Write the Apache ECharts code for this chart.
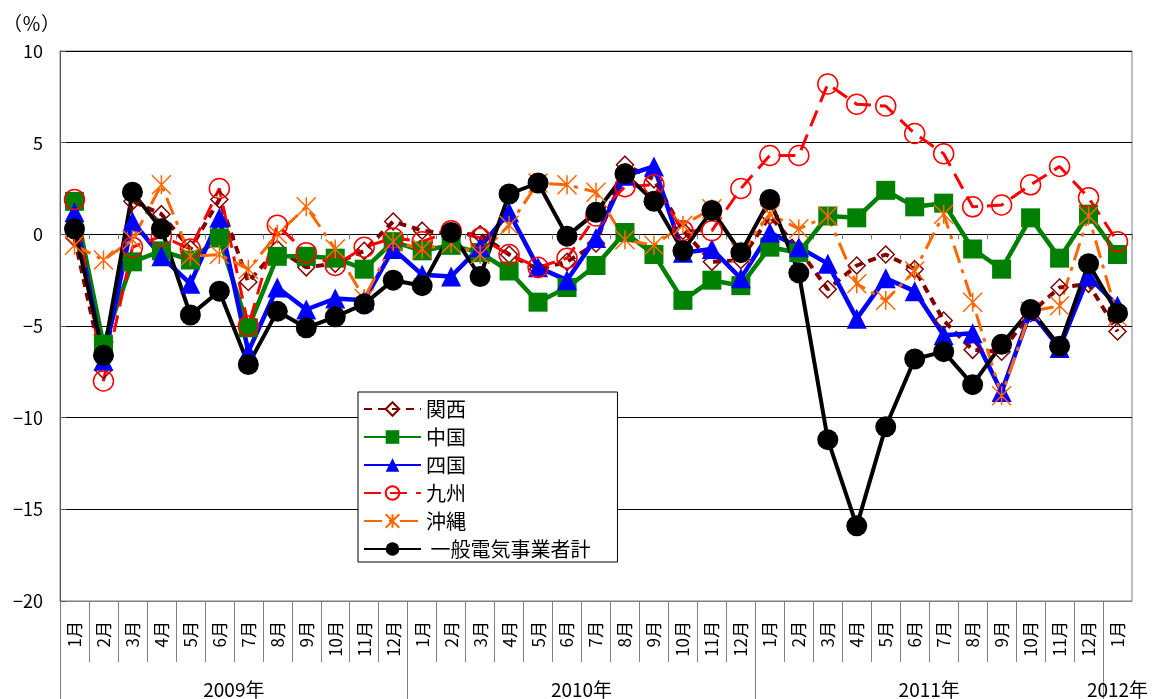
<!DOCTYPE html>
<html>
<head>
<meta charset="utf-8">
<script src="https://cdn.jsdelivr.net/npm/echarts@6/dist/echarts.min.js"></script>
<style>
  html, body { margin: 0; padding: 0; background: #fff; }
  #chart { width: 1152px; height: 699px; }
</style>
</head>
<body>
<div id="chart"></div>
<script>
// 月別の前年同月比（%）、2009年1月〜2012年1月
const months = [
  '1月','2月','3月','4月','5月','6月','7月','8月','9月','10月','11月','12月',
  '1月','2月','3月','4月','5月','6月','7月','8月','9月','10月','11月','12月',
  '1月','2月','3月','4月','5月','6月','7月','8月','9月','10月','11月','12月',
  '1月'
];
const years = ['2009年', '2010年', '2011年', '2012年'];
const yTicks = { min: -20, max: 10, step: 5 };

const kansai = [-0.2, -7.4, 1.8, 1.1, -0.8, 1.9, -2.6, -0.8, -1.8, -1.6, -0.9, 0.7,
                0.2, 0.0, 0.0, -1.1, -1.9, -1.5, -0.5, 3.8, 3.0, 0.2, -1.5, -1.4,
                1.0, -0.8, -3.0, -1.7, -1.1, -1.9, -4.7, -6.3, -6.4, -4.3, -2.9, -2.7,
                -5.3];
const chugoku = [1.8, -6.0, -1.5, -0.9, -1.4, -0.2, -5.1, -1.2, -1.2, -1.3, -1.9, -0.4,
                 -0.9, -0.6, -1.0, -2.0, -3.7, -2.9, -1.7, 0.1, -1.1, -3.6, -2.5, -2.8,
                 -0.7, -1.0, 1.0, 0.9, 2.4, 1.5, 1.7, -0.8, -1.9, 0.9, -1.3, 1.1,
                 -1.1];
const shikoku = [1.2, -6.9, 0.7, -1.2, -2.7, 0.9, -6.4, -2.9, -4.1, -3.5, -3.6, -0.8,
                 -2.2, -2.3, -0.7, 1.2, -1.8, -2.5, -0.2, 3.2, 3.7, -1.0, -0.8, -2.4,
                 0.1, -0.7, -1.6, -4.6, -2.4, -3.1, -5.5, -5.4, -8.6, -4.2, -6.2, -2.3,
                 -3.9];
const kyushu = [1.9, -8.0, -0.7, -0.1, -0.8, 2.5, -5.0, 0.5, -1.0, -1.7, -0.7, -0.2,
                -0.4, 0.2, -0.2, -1.1, -1.8, -1.3, 1.0, 2.6, 2.7, 0.2, 0.2, 2.5,
                4.3, 4.3, 8.2, 7.1, 7.0, 5.5, 4.4, 1.5, 1.6, 2.7, 3.7, 2.0,
                -0.4];
const okinawa = [-0.6, -1.4, -0.3, 2.7, -1.2, -1.1, -1.9, 0.0, 1.5, -0.8, -3.5, -0.4,
                 -0.8, -0.5, -1.1, 0.5, 2.8, 2.7, 2.3, -0.3, -0.6, 0.5, 1.4, -1.0,
                 1.1, 0.3, 1.0, -2.7, -3.6, -2.0, 1.1, -3.7, -8.8, -4.2, -3.9, 1.0,
                 -4.5];
const total = [0.3, -6.6, 2.3, 0.3, -4.4, -3.1, -7.1, -4.2, -5.1, -4.5, -3.8, -2.5,
               -2.8, 0.1, -2.3, 2.2, 2.8, -0.1, 1.2, 3.3, 1.8, -0.9, 1.3, -1.0,
               1.9, -2.1, -11.2, -15.9, -10.5, -6.8, -6.4, -8.2, -6.0, -4.1, -6.1, -1.6,
               -4.3];

const FONT = '"Noto Sans CJK JP", "Noto Sans", sans-serif';

// 年の区切り（各年の1月の位置）と年ラベルの中央位置
const yearStarts = months.map((m, i) => (m === '1月' ? i : -1)).filter(i => i >= 0);
const yearCenters = yearStarts.map((s, k) =>
  (s + (k + 1 < yearStarts.length ? yearStarts[k + 1] : months.length)) / 2);
const monthDividers = months.map((_, i) => i).filter(i => i > 0 && !yearStarts.includes(i));

const hollow = 'rgba(0,0,0,0)';
const asterisk = 'path://M10,0L10,20M0,0L20,20M0,20L20,0';

function lineSeries(name, data, color, line, symbol, size, fill, border) {
  return {
    name, type: 'line', data,
    xAxisIndex: 0, yAxisIndex: 0,
    symbol, symbolSize: size, showAllSymbol: true,
    lineStyle: Object.assign({ color }, line),
    itemStyle: { color: fill, borderColor: border ? color : fill, borderWidth: border || 0 },
    emphasis: { disabled: true },
    z: 2
  };
}

const chart = echarts.init(document.getElementById('chart'), null, { renderer: 'canvas' });
chart.setOption({
  animation: false,
  backgroundColor: '#fff',
  textStyle: { fontFamily: FONT },
  grid: { left: 60, right: 20, top: 51, bottom: 98, show: true, borderColor: '#808080', borderWidth: 1 },
  legend: {
    orient: 'vertical', left: 358, top: 392,
    padding: [7, 27, 3, 5],
    itemWidth: 57, itemHeight: 17, itemGap: 8,
    backgroundColor: '#fff', borderColor: '#000', borderWidth: 1,
    textStyle: { fontFamily: FONT, fontSize: 20, lineHeight: 20, color: '#000' },
    selectedMode: false
  },
  xAxis: [
    { // 月ラベル
      type: 'category', data: months, position: 'bottom', boundaryGap: true,
      axisLine: { onZero: false, lineStyle: { color: '#808080' } },
      axisTick: { show: false },
      axisLabel: { interval: 0, rotate: 90, margin: 20, fontSize: 17, color: '#000', fontFamily: FONT },
      splitLine: { show: false }
    },
    { // 月の区切り線
      type: 'value', min: 0, max: months.length, position: 'bottom',
      axisLine: { show: false, onZero: false },
      axisTick: { show: true, customValues: monthDividers, length: 61, lineStyle: { color: '#808080' } },
      axisLabel: { show: false },
      splitLine: { show: false }
    },
    { // 年ラベルと年の区切り線
      type: 'value', min: 0, max: months.length, position: 'bottom',
      axisLine: { show: false, onZero: false },
      axisTick: { show: true, customValues: yearStarts, length: 98, lineStyle: { color: '#808080' } },
      axisLabel: {
        customValues: yearCenters, margin: 79, fontSize: 19, color: '#000', fontFamily: FONT,
        formatter: v => { const k = yearCenters.indexOf(v); return k >= 0 ? years[k] : ''; }
      },
      splitLine: { show: false }
    },
    { // 0の線上の目盛り
      type: 'category', data: months, boundaryGap: true,
      axisLine: { show: false, onZero: true },
      axisTick: { show: true, inside: true, interval: 0, length: 5, lineStyle: { color: '#808080' } },
      axisLabel: { show: false },
      splitLine: { show: false }
    }
  ],
  yAxis: {
    type: 'value', min: yTicks.min, max: yTicks.max, interval: yTicks.step,
    name: '（％）', nameLocation: 'end', nameGap: 27,
    nameTextStyle: { fontSize: 19, color: '#000', align: 'right', verticalAlign: 'middle', padding: [0, 0, 0, 0], fontFamily: FONT },
    axisLine: { show: true, onZero: false, lineStyle: { color: '#595959', width: 1 } },
    axisTick: { show: true, inside: true, length: 6, lineStyle: { color: '#595959' } },
    axisLabel: {
      margin: 17, fontSize: 18, color: '#000', fontFamily: FONT,
      formatter: v => (v < 0 ? '\u2212' + Math.abs(v) : String(v))
    },
    splitLine: { show: true, lineStyle: { color: '#000', width: 1 } }
  },
  series: [
    lineSeries('関西', kansai, '#800000', { width: 4, type: [8, 6] }, 'diamond', 17, hollow, 1.5),
    lineSeries('中国', chugoku, '#008000', { width: 4.5 }, 'rect', 19, '#008000'),
    lineSeries('四国', shikoku, '#0000FF', { width: 4.5 }, 'triangle', 20, '#0000FF'),
    lineSeries('九州', kyushu, '#FF0000', { width: 3, type: [17, 9] }, 'circle', 20, hollow, 1.5),
    lineSeries('沖縄', okinawa, '#FF6600', { width: 3, type: [18, 7, 4, 7] }, asterisk, 19, hollow, 1.5),
    lineSeries(' 一般電気事業者計', total, '#000000', { width: 4 }, 'circle', 21, '#000000')
  ]
});
</script>
</body>
</html>
